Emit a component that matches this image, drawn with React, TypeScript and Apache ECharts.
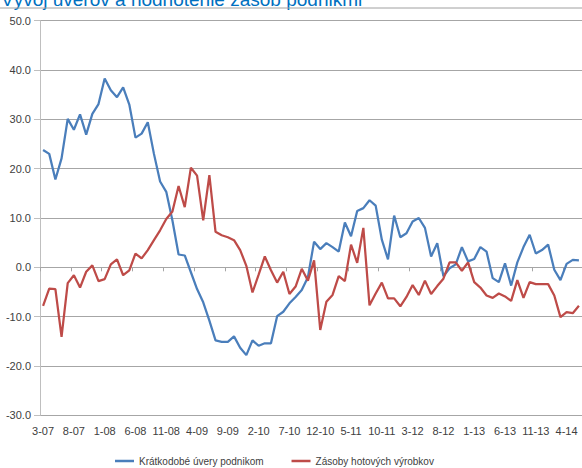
import React, { useEffect, useRef } from "react";
import * as echarts from "echarts";

// Monthly observations, March 2007 – June 2014
const months: string[] = [
  "3-07", "4-07", "5-07", "6-07", "7-07", "8-07", "9-07", "10-07", "11-07", "12-07",
  "1-08", "2-08", "3-08", "4-08", "5-08", "6-08", "7-08", "8-08", "9-08", "10-08", "11-08", "12-08",
  "1-09", "2-09", "3-09", "4-09", "5-09", "6-09", "7-09", "8-09", "9-09", "10-09", "11-09", "12-09",
  "1-10", "2-10", "3-10", "4-10", "5-10", "6-10", "7-10", "8-10", "9-10", "10-10", "11-10", "12-10",
  "1-11", "2-11", "3-11", "4-11", "5-11", "6-11", "7-11", "8-11", "9-11", "10-11", "11-11", "12-11",
  "1-12", "2-12", "3-12", "4-12", "5-12", "6-12", "7-12", "8-12", "9-12", "10-12", "11-12", "12-12",
  "1-13", "2-13", "3-13", "4-13", "5-13", "6-13", "7-13", "8-13", "9-13", "10-13", "11-13", "12-13",
  "1-14", "2-14", "3-14", "4-14", "5-14", "6-14",
];

// Krátkodobé úvery podnikom (y/y, %)
const shortTermLoans: number[] = [
  23.8, 23.0, 17.8, 22.1, 30.1, 27.9, 31.0, 26.9, 31.1, 33.1,
  38.3, 35.9, 34.5, 36.5, 33.0, 26.3, 27.1, 29.4, 23.0, 17.4,
  15.3, 9.5, 2.6, 2.4, -1.0, -4.4, -7.1, -10.8, -14.8, -15.1,
  -15.1, -14.0, -16.3, -17.8, -14.8, -15.9, -15.4, -15.4, -9.9, -9.0,
  -7.3, -6.0, -4.6, -2.0, 5.2, 3.7, 4.9, 4.1, 3.2, 9.1,
  6.3, 11.4, 12.0, 13.6, 12.5, 5.6, 1.6, 10.5, 6.1, 6.9,
  9.3, 10.0, 8.0, 2.2, 4.9, -1.8, -0.2, 0.6, 4.1, 1.2,
  1.7, 4.1, 3.2, -2.2, -3.0, 0.8, -3.7, 1.0, 4.1, 6.6,
  2.8, 3.5, 4.6, -0.5, -2.6, 0.7, 1.5, 1.4,
];

// Zásoby hotových výrobkov (saldo)
const finishedGoodsStock: number[] = [
  -7.8, -4.3, -4.4, -14.1, -3.2, -1.6, -4.1, -0.9, 0.4, -2.8,
  -2.4, 0.6, 1.6, -1.6, -0.6, 2.8, 1.8, 3.5, 5.5, 7.5,
  9.8, 11.3, 16.5, 12.2, 20.2, 18.6, 9.5, 18.7, 7.2, 6.5,
  6.1, 5.5, 3.5, 0.3, -5.1, -1.5, 2.2, -0.6, -3.1, -0.9,
  -5.4, -3.9, -0.3, -2.7, 1.4, -12.7, -7.0, -5.6, -1.8, -2.8,
  4.6, 0.9, 8.0, -7.7, -5.3, -3.1, -6.3, -6.3, -7.9, -6.0,
  -3.6, -5.6, -2.7, -5.4, -3.8, -2.3, 1.0, 1.0, -0.7, 1.0,
  -3.0, -4.1, -5.7, -6.2, -5.3, -5.9, -6.8, -2.6, -6.2, -3.0,
  -3.4, -3.4, -3.4, -5.7, -10.1, -9.1, -9.3, -7.8,
];

const seriesNames = ["Krátkodobé úvery podnikom", "Zásoby hotových výrobkov"];
const titleText = "Vývoj úverov a hodnotenie zásob podnikmi";

const FONT = "'Liberation Sans', Arial, sans-serif";
const LABEL_COLOR = "#404040";
const GRID_COLOR = "#a6a6a6";
const AXIS_COLOR = "#bfbfbf";

export default function App() {
  const ref = useRef<HTMLDivElement>(null);

  useEffect(() => {
    if (!ref.current) return;
    const chart = echarts.init(ref.current, undefined, { renderer: "svg" });

    chart.setOption({
      animation: false,
      backgroundColor: "#ffffff",
      textStyle: { fontFamily: FONT },
      graphic: [
        {
          type: "text",
          left: 1,
          top: -10,
          style: {
            text: titleText,
            fill: "#0070c0",
            font: `19px ${FONT}`,
          },
        },
        {
          type: "line",
          shape: { x1: 0, y1: 8, x2: 582, y2: 8 },
          style: { stroke: "#a0a0a0", lineWidth: 1 },
        },
      ],
      grid: { left: 40, right: 0, top: 20.7, bottom: 52.7, containLabel: false },
      legend: {
        data: seriesNames,
        left: 110,
        top: 451,
        icon: "rect",
        itemWidth: 19,
        itemHeight: 2.5,
        itemGap: 28,
        textStyle: { fontSize: 10, color: LABEL_COLOR, fontFamily: FONT },
      },
      xAxis: [
        {
          type: "category",
          data: months,
          boundaryGap: true,
          position: "bottom",
          axisLine: { show: false, onZero: false },
          axisTick: { show: false },
          splitLine: { show: false },
          axisLabel: {
            interval: 4,
            margin: 10,
            fontSize: 11,
            color: LABEL_COLOR,
            fontFamily: FONT,
          },
        },
        {
          type: "category",
          data: months,
          boundaryGap: true,
          position: "bottom",
          axisLine: { show: true, onZero: true, lineStyle: { color: GRID_COLOR, width: 1 } },
          axisTick: {
            show: true,
            interval: 4,
            length: 4,
            lineStyle: { color: GRID_COLOR },
          },
          axisLabel: { show: false },
          splitLine: { show: false },
        },
      ],
      yAxis: {
        type: "value",
        min: -30,
        max: 50,
        interval: 10,
        axisLine: { show: true, lineStyle: { color: AXIS_COLOR, width: 1 } },
        axisTick: { show: true, length: 6, lineStyle: { color: AXIS_COLOR } },
        splitLine: { show: true, lineStyle: { color: GRID_COLOR, width: 1 } },
        axisLabel: {
          margin: 9,
          fontSize: 11,
          color: LABEL_COLOR,
          fontFamily: FONT,
          formatter: (v: number) => v.toFixed(1),
        },
      },
      series: [
        {
          name: seriesNames[0],
          type: "line",
          xAxisIndex: 0,
          data: shortTermLoans,
          showSymbol: false,
          symbol: "none",
          lineStyle: { color: "#4a7ebb", width: 2.25 },
          itemStyle: { color: "#4a7ebb" },
        },
        {
          name: seriesNames[1],
          type: "line",
          xAxisIndex: 0,
          data: finishedGoodsStock,
          showSymbol: false,
          symbol: "none",
          lineStyle: { color: "#be4b48", width: 2.25 },
          itemStyle: { color: "#be4b48" },
        },
      ],
    });

    return () => chart.dispose();
  }, []);

  return (
    <div
      ref={ref}
      style={{ position: "fixed", left: 0, top: 0, width: 582, height: 468, background: "#fff" }}
    />
  );
}
